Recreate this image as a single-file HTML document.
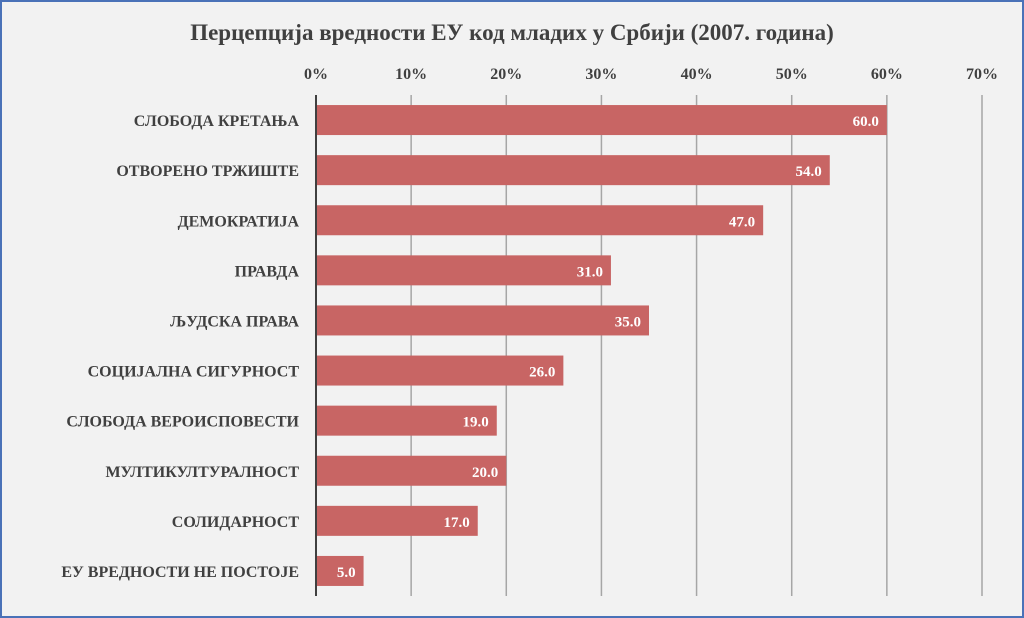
<!DOCTYPE html>
<html><head><meta charset="utf-8"><style>
body{margin:0;background:#f2f2f2}
svg{display:block}
text{font-family:"Liberation Serif",serif;font-weight:bold}
</style></head><body>
<svg id="c" width="1024" height="618">
<rect x="1" y="1" width="1022" height="616" fill="#f2f2f2" stroke="#4a72b8" stroke-width="2"/>
<text x="512" y="40" text-anchor="middle" font-size="23" fill="#404040">Перцепција вредности ЕУ код младих у Србији (2007. година)</text>
<g id="grid"></g><g id="bars"></g>
</svg>
<script>
const categories=["СЛОБОДА КРЕТАЊА","ОТВОРЕНО ТРЖИШТЕ","ДЕМОКРАТИЈА","ПРАВДА","ЉУДСКА ПРАВА","СОЦИЈАЛНА СИГУРНОСТ","СЛОБОДА ВЕРОИСПОВЕСТИ","МУЛТИКУЛТУРАЛНОСТ","СОЛИДАРНОСТ","ЕУ ВРЕДНОСТИ НЕ ПОСТОЈЕ"];
const values=[60,54,47,31,35,26,19,20,17,5];
const ticks=[0,10,20,30,40,50,60,70];
const NS="http://www.w3.org/2000/svg";
const x0=316,x1=982,xmax=70,yTop=95,yBot=596;
const xs=v=>x0+(v/xmax)*(x1-x0);
const band=(yBot-yTop)/categories.length;
const yc=i=>yTop+band*(i+0.5);
function mk(t,a,p){const e=document.createElementNS(NS,t);for(const k in a)e.setAttribute(k,a[k]);p.appendChild(e);return e;}
const g=document.getElementById('grid'),b=document.getElementById('bars');
ticks.forEach(t=>{
  if(t>0){const l=mk('line',{x1:xs(t),x2:xs(t),y1:yTop,y2:yBot,stroke:'#a6a6a6','stroke-width':1.5},g);
  
  }
  const tx=mk('text',{x:xs(t),y:79,'text-anchor':'middle','font-size':16,fill:'#404040'},g);
  tx.textContent=t+'%';
  
  
});
values.forEach((v,i)=>{
  const r=mk('rect',{x:x0,y:yc(i)-15,width:xs(v)-x0,height:30,fill:'#c86564'},b);
  
  
  const vl=mk('text',{x:xs(v)-8,y:yc(i)+6,'text-anchor':'end','font-size':15,fill:'#ffffff'},b);
  vl.textContent=v.toFixed(1);
  
  
  const cl=mk('text',{x:299,y:yc(i)+6,'text-anchor':'end','font-size':16,fill:'#404040'},b);
  cl.textContent=categories[i];
  
  
});
const ax=mk('line',{x1:x0,x2:x0,y1:yTop,y2:yBot,stroke:'#404040','stroke-width':2},b);


</script>
</body></html>
